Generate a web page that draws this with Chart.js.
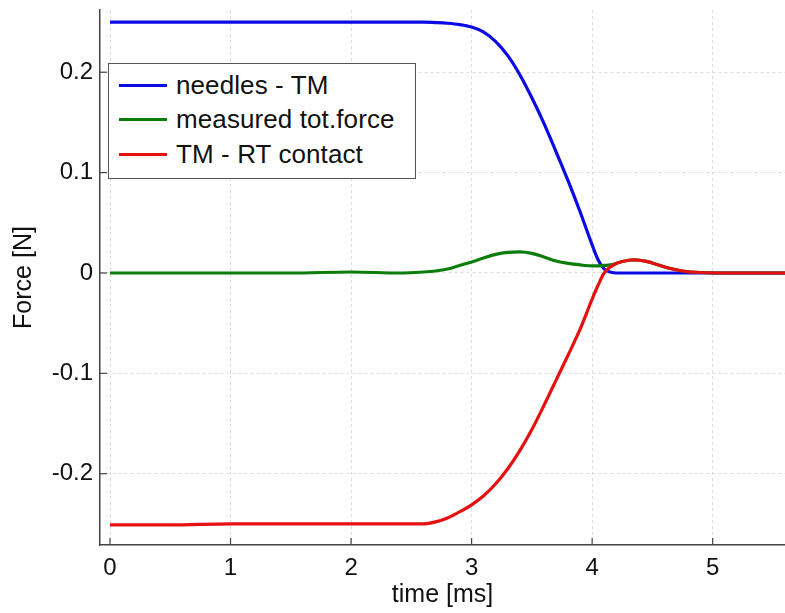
<!DOCTYPE html>
<html>
<head>
<meta charset="utf-8">
<script src="https://cdn.jsdelivr.net/npm/chart.js@4"></script>
<style>
  html, body { margin: 0; padding: 0; background: #fff; }
  #wrap { position: relative; width: 785px; height: 613px; }
  #legend {
    position: absolute; left: 108px; top: 63px; width: 306px; height: 110px;
    border: 1px solid #555; background: #fff; box-sizing: content-box;
    font-family: "Liberation Sans", Arial, sans-serif; font-size: 26px; letter-spacing: 0.1px; color: #111;
    padding-top: 4px;
  }
  #legend .row { height: 34.5px; display: flex; align-items: center; white-space: nowrap; }
  #legend .swatch { width: 48px; height: 3px; margin-left: 10px; margin-right: 9px; }
</style>
</head>
<body>
<div id="wrap">
  <canvas id="chart" width="785" height="613"></canvas>
  <div id="legend"></div>
</div>
<script>
// Temps (ms) et forces (N)
const time = [0, 0.5, 1, 1.5, 2, 2.4, 2.6, 2.7, 2.8, 2.9, 3.0, 3.1, 3.2, 3.3, 3.4, 3.5, 3.6, 3.7, 3.8, 3.9,
  4.0, 4.05, 4.1, 4.15, 4.2, 4.25, 4.35, 4.45, 4.55, 4.65, 4.75, 4.9, 5.2, 5.6];
const needles = [0.250, 0.250, 0.250, 0.250, 0.250, 0.250, 0.250, 0.2495, 0.2488, 0.2475, 0.2450, 0.2400, 0.2305, 0.2165, 0.1975,
  0.1745, 0.149, 0.121, 0.092, 0.061, 0.028, 0.013, 0.004, 0.001, 0, 0, 0, 0, 0, 0, 0, 0, 0, 0];
const measured = [0, 0, 0, 0, 0.001, 0, 0.001, 0.002, 0.004, 0.0075, 0.011, 0.015, 0.0185, 0.0205, 0.021,
  0.0195, 0.016, 0.012, 0.0095, 0.008, 0.007, 0.007, 0.0075, 0.008, 0.0095, 0.0115, 0.013, 0.0115, 0.008, 0.0045, 0.002, 0.0005, 0, 0];
const contact = [-0.251, -0.251, -0.250, -0.250, -0.250, -0.250, -0.250, -0.248, -0.244, -0.238, -0.231, -0.222, -0.210, -0.195, -0.177,
  -0.156, -0.132, -0.107, -0.082, -0.056, -0.026, -0.012, 0.000, 0.006, 0.0095, 0.0115, 0.013, 0.0115, 0.008, 0.0045, 0.002, 0.0005, 0, 0];

const seriesNames = ['needles - TM', 'measured tot.force', 'TM - RT contact'];
const seriesColors = ['#0a0ae6', '#0b7d0b', '#e61010'];
const seriesData = [needles, measured, contact];

const FONT = '"Liberation Sans", Arial, sans-serif';

// petites graduations vers l'intérieur
const innerTicks = {
  id: 'innerTicks',
  afterDraw(chart) {
    const { ctx, chartArea, scales } = chart;
    ctx.save();
    ctx.strokeStyle = '#444';
    ctx.lineWidth = 1.2;
    scales.x.ticks.forEach(t => {
      const px = scales.x.getPixelForValue(t.value);
      ctx.beginPath();
      ctx.moveTo(px, chartArea.bottom);
      ctx.lineTo(px, chartArea.bottom - 7);
      ctx.stroke();
    });
    scales.y.ticks.forEach(t => {
      const py = scales.y.getPixelForValue(t.value);
      ctx.beginPath();
      ctx.moveTo(chartArea.left, py);
      ctx.lineTo(chartArea.left + 7, py);
      ctx.stroke();
    });
    ctx.restore();
  }
};

new Chart(document.getElementById('chart'), {
  type: 'line',
  data: {
    datasets: seriesData.map((vals, i) => ({
      label: seriesNames[i],
      data: time.map((t, k) => ({ x: t, y: vals[k] })),
      borderColor: seriesColors[i],
      borderWidth: 3.2,
      pointRadius: 0,
      cubicInterpolationMode: 'monotone',
      order: 2 - i
    }))
  },
  options: {
    responsive: false,
    animation: false,
    layout: { padding: { top: 10, right: 0, left: 0, bottom: 0 } },
    plugins: { legend: { display: false }, tooltip: { enabled: false } },
    scales: {
      x: {
        type: 'linear',
        min: -0.083, max: 5.6,
        afterFit: s => { s.height = 68; s.paddingRight = 0; },
        ticks: { stepSize: 1, includeBounds: false, color: '#111', padding: 9, font: { family: FONT, size: 24 } },
        grid: { color: '#dcdcdc', drawTicks: false },
        border: { color: '#444', width: 1.5, dash: [3, 3] },
        title: { display: true, text: 'time [ms]', color: '#111', font: { family: FONT, size: 25 }, padding: { bottom: 3, top: 0 } }
      },
      y: {
        min: -0.271, max: 0.262,
        afterFit: s => { s.width = 100; s.paddingTop = 0; s.paddingBottom = 0; },
        ticks: {
          stepSize: 0.1, includeBounds: false, color: '#111', padding: 7, font: { family: FONT, size: 24 },
          callback: v => Math.abs(v) < 1e-9 ? '0' : v.toFixed(1)
        },
        grid: { color: '#dcdcdc', drawTicks: false },
        border: { color: '#444', width: 1.5, dash: [3, 3] },
        title: { display: true, text: 'Force [N]', color: '#111', font: { family: FONT, size: 25 }, padding: { top: 9, bottom: 0 } }
      }
    }
  },
  plugins: [innerTicks]
});

// légende en HTML
const legend = document.getElementById('legend');
seriesNames.forEach((name, i) => {
  const row = document.createElement('div');
  row.className = 'row';
  const sw = document.createElement('span');
  sw.className = 'swatch';
  sw.style.background = seriesColors[i];
  const label = document.createElement('span');
  label.textContent = name;
  row.appendChild(sw);
  row.appendChild(label);
  legend.appendChild(row);
});
</script>
</body>
</html>
